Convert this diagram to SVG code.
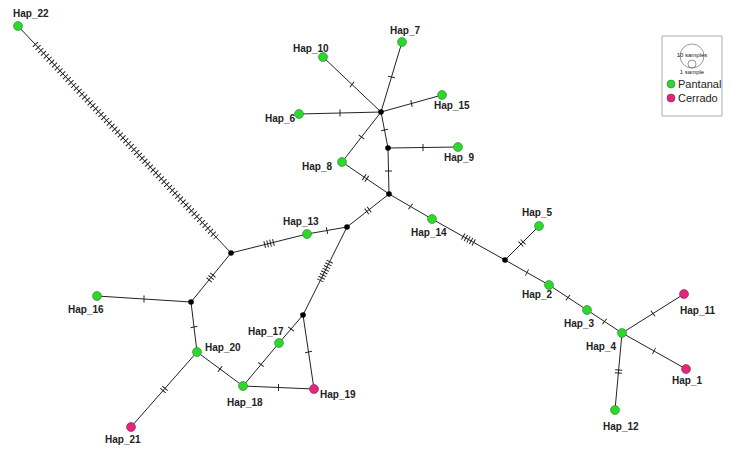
<svg xmlns="http://www.w3.org/2000/svg" width="744" height="450" viewBox="0 0 744 450">
<style>
.e{stroke:#222;stroke-width:1;fill:none}
.t{stroke:#222;stroke-width:7;fill:none;stroke-dasharray:1 2}
.g{fill:#2bd82b;stroke:#3a7a3a;stroke-width:0.6}
.p{fill:#e2267c;stroke:#7a2a4a;stroke-width:0.6}
.j{fill:#000}
text{font-family:"Liberation Sans",Arial,sans-serif;font-size:10px;font-weight:bold;fill:#222}
.lg{font-weight:normal;font-size:11px}
.sm{font-weight:normal;font-size:6px}
</style>
<rect width="744" height="450" fill="#fff"/>
<g id="connectors">
<path class="e" d="M18,26L231,253M231,253L307,234L347,227L389,194L342,162L381,112L388,148L389,194M388,148L458,147M381,112L323,57M381,112L402,42M381,112L442,95M381,112L299,114M389,194L432,219L505,260L539,226M505,260L549,285L587,310L622,333L684,294M622,333L686,369M622,333L615,410M231,253L191,302L97,296M191,302L197,352L131,427M197,352L243,386L279,343L303,315L314,389M243,386L314,389M347,227L303,315"/>
<line class="e" x1="35" y1="44.2" x2="216.1" y2="237.1" style="stroke-width:7;stroke-dasharray:1 3"/>
<line class="t" x1="264.2" y1="244.7" x2="273.9" y2="242.3"/>
<line class="t" x1="326.5" y1="230.6" x2="327.5" y2="230.4"/>
<line class="t" x1="366.4" y1="211.7" x2="369.6" y2="209.3"/>
<line class="t" x1="367.2" y1="179.1" x2="363.8" y2="176.9"/>
<line class="t" x1="361.2" y1="137.4" x2="361.8" y2="136.6"/>
<line class="t" x1="384.4" y1="129.5" x2="384.6" y2="130.5"/>
<line class="t" x1="388.5" y1="170.5" x2="388.5" y2="171.5"/>
<line class="t" x1="422.5" y1="147.5" x2="423.5" y2="147.5"/>
<line class="t" x1="352.4" y1="84.8" x2="351.6" y2="84.2"/>
<line class="t" x1="391.4" y1="77.5" x2="391.6" y2="76.5"/>
<line class="t" x1="411" y1="103.6" x2="412" y2="103.4"/>
<line class="t" x1="340.5" y1="113" x2="339.5" y2="113"/>
<line class="t" x1="410.1" y1="206.2" x2="410.9" y2="206.8"/>
<line class="t" x1="462.8" y1="236.3" x2="474.2" y2="242.7"/>
<line class="t" x1="520.6" y1="244.4" x2="523.4" y2="241.6"/>
<line class="t" x1="526.6" y1="272.3" x2="527.4" y2="272.7"/>
<line class="t" x1="567.6" y1="297.2" x2="568.4" y2="297.8"/>
<line class="t" x1="604.1" y1="321.2" x2="604.9" y2="321.8"/>
<line class="t" x1="652.6" y1="313.8" x2="653.4" y2="313.2"/>
<line class="t" x1="653.6" y1="350.8" x2="654.4" y2="351.2"/>
<line class="t" x1="618.7" y1="369.5" x2="618.3" y2="373.5"/>
<line class="t" x1="213.2" y1="274.8" x2="208.8" y2="280.2"/>
<line class="t" x1="144.5" y1="299" x2="143.5" y2="299"/>
<line class="t" x1="193.9" y1="326.5" x2="194.1" y2="327.5"/>
<line class="t" x1="165.3" y1="388" x2="162.7" y2="391"/>
<line class="t" x1="219.6" y1="368.7" x2="220.4" y2="369.3"/>
<line class="t" x1="260.7" y1="364.9" x2="261.3" y2="364.1"/>
<line class="t" x1="290.7" y1="329.4" x2="291.3" y2="328.6"/>
<line class="t" x1="308.4" y1="351.5" x2="308.6" y2="352.5"/>
<line class="t" x1="278" y1="387.5" x2="279" y2="387.5"/>
<line class="t" x1="329.9" y1="261.2" x2="320.1" y2="280.8"/>
</g>
<g id="junctions">
<circle class="j" cx="231" cy="253" r="2.8"/><circle class="j" cx="347" cy="227" r="2.8"/><circle class="j" cx="389" cy="194" r="2.8"/><circle class="j" cx="381" cy="112" r="2.8"/><circle class="j" cx="388" cy="148" r="2.8"/><circle class="j" cx="505" cy="260" r="2.8"/><circle class="j" cx="191" cy="302" r="2.8"/><circle class="j" cx="303" cy="315" r="2.8"/>
</g>
<g id="Hap_22"><circle class="g" cx="18" cy="26" r="4.5"/><text x="13" y="17">Hap_22</text></g>
<g id="Hap_13"><circle class="g" cx="307" cy="234" r="4.5"/><text x="283" y="225">Hap_13</text></g>
<g id="Hap_8"><circle class="g" cx="342" cy="162" r="4.5"/><text x="302" y="170">Hap_8</text></g>
<g id="Hap_9"><circle class="g" cx="458" cy="147" r="4.5"/><text x="444" y="161">Hap_9</text></g>
<g id="Hap_10"><circle class="g" cx="323" cy="57" r="4.5"/><text x="293" y="52">Hap_10</text></g>
<g id="Hap_7"><circle class="g" cx="402" cy="42" r="4.5"/><text x="390" y="34">Hap_7</text></g>
<g id="Hap_15"><circle class="g" cx="442" cy="95" r="4.5"/><text x="434" y="109">Hap_15</text></g>
<g id="Hap_6"><circle class="g" cx="299" cy="114" r="4.5"/><text x="265" y="122">Hap_6</text></g>
<g id="Hap_14"><circle class="g" cx="432" cy="219" r="4.5"/><text x="411" y="236">Hap_14</text></g>
<g id="Hap_5"><circle class="g" cx="539" cy="226" r="4.5"/><text x="522" y="216">Hap_5</text></g>
<g id="Hap_2"><circle class="g" cx="549" cy="285" r="4.5"/><text x="522" y="298">Hap_2</text></g>
<g id="Hap_3"><circle class="g" cx="587" cy="310" r="4.5"/><text x="564" y="327">Hap_3</text></g>
<g id="Hap_4"><circle class="g" cx="622" cy="333" r="4.5"/><text x="586" y="350">Hap_4</text></g>
<g id="Hap_11"><circle class="p" cx="684" cy="294" r="4.5"/><text x="680" y="314">Hap_11</text></g>
<g id="Hap_1"><circle class="p" cx="686" cy="369" r="4.5"/><text x="672" y="384">Hap_1</text></g>
<g id="Hap_12"><circle class="g" cx="615" cy="410" r="4.5"/><text x="603" y="430">Hap_12</text></g>
<g id="Hap_16"><circle class="g" cx="97" cy="296" r="4.5"/><text x="68" y="313">Hap_16</text></g>
<g id="Hap_20"><circle class="g" cx="197" cy="352" r="4.5"/><text x="205" y="351">Hap_20</text></g>
<g id="Hap_21"><circle class="p" cx="131" cy="427" r="4.5"/><text x="105" y="443">Hap_21</text></g>
<g id="Hap_18"><circle class="g" cx="243" cy="386" r="4.5"/><text x="227" y="406">Hap_18</text></g>
<g id="Hap_17"><circle class="g" cx="279" cy="343" r="4.5"/><text x="248" y="335">Hap_17</text></g>
<g id="Hap_19"><circle class="p" cx="314" cy="389" r="4.5"/><text x="320" y="398">Hap_19</text></g>
<g id="legend">
<rect x="662" y="36" width="60" height="80" fill="#fff" stroke="#999" stroke-width="0.8"/>
<circle cx="692" cy="56" r="12" fill="none" stroke="#555" stroke-width="0.6"/>
<circle cx="692" cy="64" r="4" fill="none" stroke="#555" stroke-width="0.6"/>
<text class="sm" x="692" y="57" text-anchor="middle">10 samples</text>
<text class="sm" x="692" y="74" text-anchor="middle">1 sample</text>
<circle class="g" cx="671" cy="84" r="4"/><text class="lg" x="678" y="88">Pantanal</text>
<circle class="p" cx="671" cy="98" r="4"/><text class="lg" x="678" y="102">Cerrado</text>
</g>
</svg>
